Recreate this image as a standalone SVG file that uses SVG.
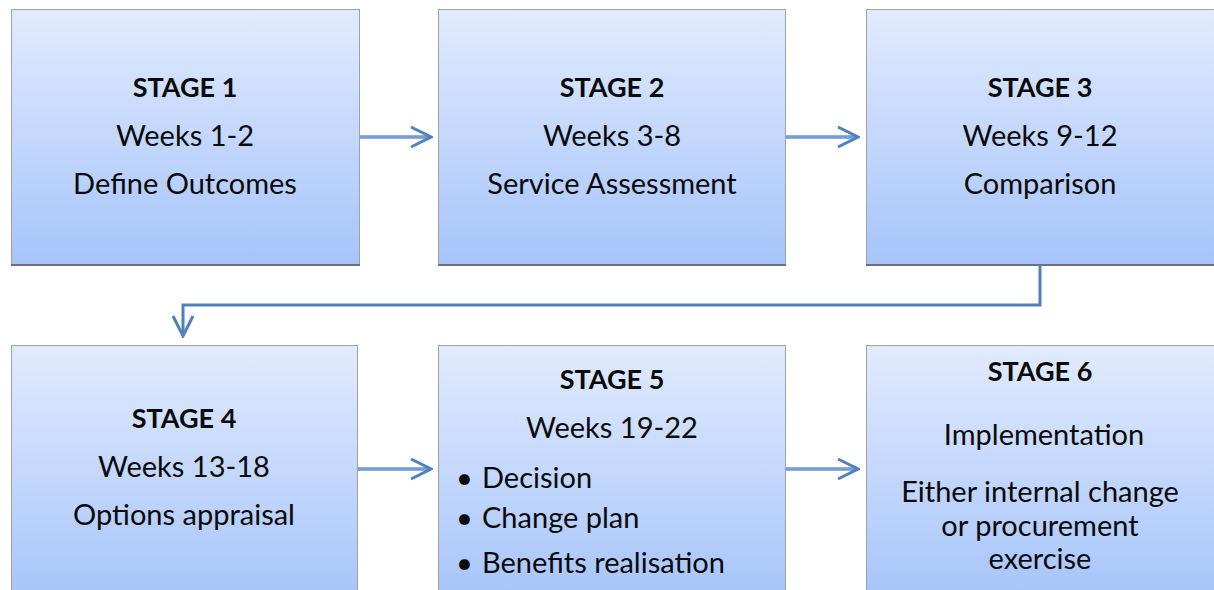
<svg xmlns="http://www.w3.org/2000/svg" width="1214" height="590" viewBox="0 0 1214 590">
  <defs>
    <linearGradient id="boxFill" x1="0" y1="0" x2="0" y2="1">
      <stop offset="0" stop-color="#E1EBFE"/>
      <stop offset="1" stop-color="#A6C4FA"/>
    </linearGradient>
    <marker id="chevron" markerUnits="userSpaceOnUse" markerWidth="26" markerHeight="26" viewBox="-24 -13 26 26" refX="0" refY="0" orient="auto">
      <path d="M-20,-10 L0,0 L-20,10" fill="none" stroke="#4F81BD" stroke-width="3" stroke-linejoin="miter"/>
    </marker>
  </defs>
  <style>
    .box { fill: url(#boxFill); stroke: #9CA1AA; stroke-width: 1; }
    .edge { stroke: #6A707C; stroke-width: 2; }
    .head { font-family: Lato, "Liberation Sans", sans-serif; font-weight: bold; font-size: 27px; fill: #0A0A0A; text-anchor: middle; }
    .body { font-family: Lato, "Liberation Sans", sans-serif; font-size: 29px; fill: #0A0A0A; }
    .mid { text-anchor: middle; }
    .shaft { stroke: #8FB0DF; stroke-width: 4; fill: none; }
    .core { stroke: #5F8CC9; stroke-width: 1.2; fill: none; }
    .link { stroke: #4F81BD; stroke-width: 3; fill: none; }
  </style>
  <rect width="1214" height="590" fill="#FFFFFF"/>

  <!-- Row 1 -->
  <g id="stage1">
    <rect class="box" x="11.5" y="9.5" width="348" height="255"/>
    <line class="edge" x1="11" y1="265" x2="360" y2="265"/>
    <text class="head" x="185" y="97">STAGE 1</text>
    <text class="body mid" x="185" y="146">Weeks 1-2</text>
    <text class="body mid" x="185" y="194">Define Outcomes</text>
  </g>
  <g id="stage2">
    <rect class="box" x="438.5" y="9.5" width="347" height="255"/>
    <line class="edge" x1="438" y1="265" x2="786" y2="265"/>
    <text class="head" x="612" y="97">STAGE 2</text>
    <text class="body mid" x="612" y="146">Weeks 3-8</text>
    <text class="body mid" x="612" y="194">Service Assessment</text>
  </g>
  <g id="stage3">
    <rect class="box" x="866.5" y="9.5" width="350" height="255"/>
    <line class="edge" x1="866" y1="265" x2="1214" y2="265"/>
    <text class="head" x="1040" y="97">STAGE 3</text>
    <text class="body mid" x="1040" y="146">Weeks 9-12</text>
    <text class="body mid" x="1040" y="194">Comparison</text>
  </g>

  <!-- Row 2 -->
  <g id="stage4">
    <rect class="box" x="11.5" y="345.5" width="346" height="256"/>
    <text class="head" x="184" y="428">STAGE 4</text>
    <text class="body mid" x="184" y="477">Weeks 13-18</text>
    <text class="body mid" x="184" y="525">Options appraisal</text>
  </g>
  <g id="stage5">
    <rect class="box" x="438.5" y="345.5" width="347" height="256"/>
    <text class="head" x="612" y="389">STAGE 5</text>
    <text class="body mid" x="612" y="438">Weeks 19-22</text>
    <text class="body" x="456" y="488">•<tspan x="482">Decision</tspan></text>
    <text class="body" x="456" y="528">•<tspan x="482">Change plan</tspan></text>
    <text class="body" x="456" y="573">•<tspan x="482">Benefits realisation</tspan></text>
  </g>
  <g id="stage6">
    <rect class="box" x="866.5" y="345.5" width="350" height="256"/>
    <text class="head" x="1040" y="381">STAGE 6</text>
    <text class="body mid" x="1044" y="445">Implementation</text>
    <text class="body mid" x="1040" y="502">Either internal change</text>
    <text class="body mid" x="1040" y="536">or procurement</text>
    <text class="body mid" x="1040" y="569">exercise</text>
  </g>

  <!-- Connectors -->
  <g id="connectors">
    <line class="shaft" x1="360" y1="137" x2="429" y2="137"/>
    <line class="core" x1="360" y1="137" x2="429" y2="137"/>
    <path class="link" d="M360,137 H431" stroke-opacity="0" marker-end="url(#chevron)"/>

    <line class="shaft" x1="786" y1="137" x2="856" y2="137"/>
    <line class="core" x1="786" y1="137" x2="856" y2="137"/>
    <path class="link" d="M786,137 H858" stroke-opacity="0" marker-end="url(#chevron)"/>

    <line class="shaft" x1="358" y1="469" x2="429" y2="469"/>
    <line class="core" x1="358" y1="469" x2="429" y2="469"/>
    <path class="link" d="M358,469 H431" stroke-opacity="0" marker-end="url(#chevron)"/>

    <line class="shaft" x1="786" y1="469" x2="856" y2="469"/>
    <line class="core" x1="786" y1="469" x2="856" y2="469"/>
    <path class="link" d="M786,469 H858" stroke-opacity="0" marker-end="url(#chevron)"/>

    <path class="link" d="M1040,265 V305 H183 V336" marker-end="url(#chevron)"/>
  </g>
</svg>
